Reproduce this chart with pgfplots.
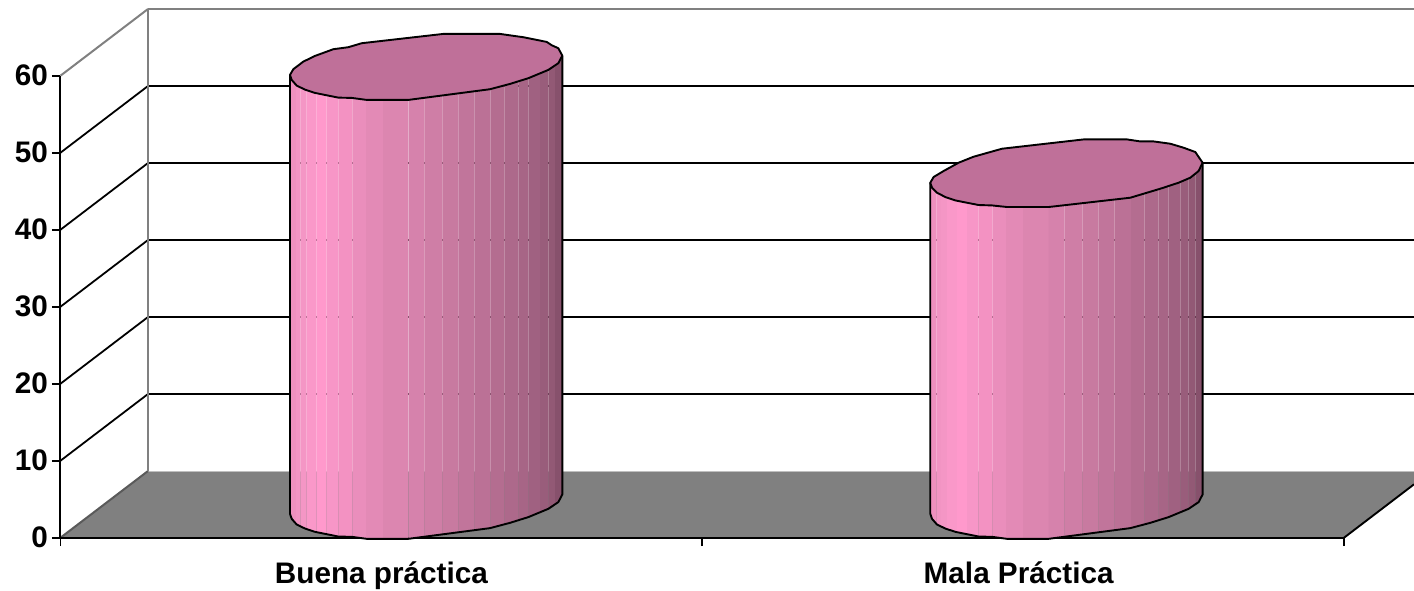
\documentclass[border=0pt]{standalone}
\usepackage{fontspec}
\setmainfont{Liberation Sans}
\usepackage{pgfplots}
\pgfplotsset{compat=1.18}

% Shades of the cylinder wall, left to right
\definecolor{s1}{HTML}{EE90BE}\definecolor{s2}{HTML}{F294C3}\definecolor{s3}{HTML}{F496C5}
\definecolor{s4}{HTML}{FA98C9}\definecolor{s5}{HTML}{FF99CC}\definecolor{s6}{HTML}{F796C7}
\definecolor{s7}{HTML}{F392C2}\definecolor{s8}{HTML}{EA8EBC}\definecolor{s9}{HTML}{E38AB6}
\definecolor{s10}{HTML}{DC86B0}\definecolor{s11}{HTML}{D682AC}\definecolor{s12}{HTML}{CF7EA6}
\definecolor{s13}{HTML}{C87AA0}\definecolor{s14}{HTML}{C1759B}\definecolor{s15}{HTML}{BB7196}
\definecolor{s16}{HTML}{B46D90}\definecolor{s17}{HTML}{AD698B}\definecolor{s18}{HTML}{A76586}
\definecolor{s19}{HTML}{A06181}\definecolor{s20}{HTML}{995D7B}\definecolor{s21}{HTML}{925975}
\definecolor{s22}{HTML}{87516C}
\definecolor{capcol}{HTML}{BF7099}
\definecolor{floorcol}{HTML}{808080}

% Scale of the front plane: points per category and per value unit
\def\ptx{641.75}
\def\pty{7.7}

% Front edge of a cylinder rim as offsets from its left corner
\def\frontedge{0/0,1.7/5,6.7/10.7,15/14.7,25/18,48.3/22.7,61.7/23,76.7/25,118.3/25,200/14.3,220/9,238.3/3.3,258.3/-5,268.3/-11.7,272.3/-19.3}

% #1 left end on the x axis, #2 value, #3 rim outline
\newcommand\cylinder[3]{%
  \foreach \c/\ua/\ub/\va/\vb in {%
    s1/0/6/0/10.3,s2/6/10.7/10.3/12.7,s3/10.7/16.7/12.7/15.3,s4/16.7/26.7/15.3/18.4,%
    s5/26.7/36.7/18.4/20.4,s6/36.7/48.3/20.4/22.7,s7/48.3/62.3/22.7/23,s8/62.3/76/23/25,%
    s9/76/92.7/25/25,s10/92.7/118.3/25/25,s11/118.3/134.3/25/23,s12/134.3/152.3/23/20.6,%
    s13/152.3/168.3/20.6/18.5,s14/168.3/184.3/18.5/16.4,s15/184.3/200.7/16.4/14.1,%
    s16/200.7/214.3/14.1/10.8,s17/214.3/228.3/10.8/6.4,s18/228.3/238.3/6.4/3.3,%
    s19/238.3/250/3.3/-1.6,s20/250/258.3/-1.6/-5,s21/258.3/265/-5/-9,s22/265/272.3/-9/-19.3}{%
    \pgfmathsetmacro\xa{#1+\ua/\ptx}%
    \pgfmathsetmacro\xb{#1+\ub/\ptx}%
    \pgfmathsetmacro\ybotA{3.1-\va/\pty}%
    \pgfmathsetmacro\ybotB{3.1-\vb/\pty}%
    \pgfmathsetmacro\ytopA{#2+3.1-\va/\pty}%
    \pgfmathsetmacro\ytopB{#2+3.1-\vb/\pty}%
    \edef\temp{\noexpand\addplot[fill=\c,draw=none] coordinates
      {(\xa,\ybotA) (\xb,\ybotB) (\xb,\ytopB) (\xa,\ytopA)} -- cycle;}%
    \temp
  }%
  % wall outline: down the left side, along the base, up the right side
  \gdef\wallpts{}%
  \foreach \u/\v in \frontedge {%
    \pgfmathsetmacro\xx{#1+\u/\ptx}%
    \pgfmathsetmacro\yy{3.1-\v/\pty}%
    \xdef\wallpts{\wallpts (\xx,\yy)}%
  }%
  \pgfmathsetmacro\xl{#1}%
  \pgfmathsetmacro\xr{#1+272.3/\ptx}%
  \pgfmathsetmacro\yl{#2+3.1}%
  \pgfmathsetmacro\yr{#2+3.1+19.3/\pty}%
  \edef\temp{\noexpand\addplot[black,line width=1.9pt,line join=round] coordinates
    {(\xl,\yl) \wallpts (\xr,\yr)};}%
  \temp
  % top rim
  \gdef\rimpts{}%
  \foreach \u/\v in {#3} {%
    \pgfmathsetmacro\xx{#1+\u/\ptx}%
    \pgfmathsetmacro\yy{#2+3.1-\v/\pty}%
    \xdef\rimpts{\rimpts (\xx,\yy)}%
  }%
  \edef\temp{\noexpand\addplot[fill=capcol,draw=black,line width=1.9pt,line join=round] coordinates
    {\rimpts} -- cycle;}%
  \temp
}

\begin{document}
\begin{tikzpicture}
\path[use as bounding box] (-60.5pt,-52.3pt) rectangle (1353.5pt,537.7pt);
\begin{axis}[
  at={(0pt,0pt)}, anchor=origin,
  scale only axis,
  width=1353.5pt, height=537.7pt,
  xmin=0, xmax=2.109, ymin=0, ymax=69.83,
  clip=false,
  axis x line*=bottom, axis y line*=left,
  axis line style={draw=none},
  tick align=outside,
  ytick={0,10,...,60},
  xtick={0,1,2},
  xticklabels={},
  extra x ticks={0.5,1.493},
  extra x tick labels={Buena práctica,Mala Práctica},
  extra x tick style={major tick length=0pt,
    xticklabel style={anchor=base,yshift=-46pt,font=\fontsize{29.7}{32}\selectfont\bfseries}},
  major tick length=8.5pt,
  tick style={black,line width=1.8pt},
  yticklabel style={xshift=-0.5pt,font=\fontsize{29.7}{32}\selectfont\bfseries},
  /pgf/number format/assume math mode=true,
]
% floor
\addplot[fill=floorcol,draw=none] coordinates
  {(0,0) (2,0) (2.109,6.93) (2.109,8.66) (0.13635,8.66)} -- cycle;
\addplot[color=black!25,line width=1pt] coordinates {(0.13635,8.66) (2.109,8.66)};
% back wall gridlines
\addplot[black,line width=1.8pt] coordinates {(0.13635,18.66) (2.109,18.66)};
\addplot[black,line width=1.8pt] coordinates {(0.13635,28.66) (2.109,28.66)};
\addplot[black,line width=1.8pt] coordinates {(0.13635,38.66) (2.109,38.66)};
\addplot[black,line width=1.8pt] coordinates {(0.13635,48.66) (2.109,48.66)};
\addplot[black,line width=1.8pt] coordinates {(0.13635,58.66) (2.109,58.66)};
\addplot[floorcol,line width=2pt] coordinates {(0.13635,68.66) (2.109,68.66)};
% side wall gridlines
\addplot[black,line width=1.8pt] coordinates {(0,10) (0.13635,18.66)};
\addplot[black,line width=1.8pt] coordinates {(0,20) (0.13635,28.66)};
\addplot[black,line width=1.8pt] coordinates {(0,30) (0.13635,38.66)};
\addplot[black,line width=1.8pt] coordinates {(0,40) (0.13635,48.66)};
\addplot[black,line width=1.8pt] coordinates {(0,50) (0.13635,58.66)};
\addplot[floorcol,line width=2pt] coordinates {(0,60) (0.13635,68.66)};
\addplot[floorcol!70!black,line width=2pt] coordinates {(0,0) (0.13635,8.66)};
\addplot[floorcol,line width=2pt] coordinates {(0.13635,8.66) (0.13635,68.66)};
% front edges
\addplot[black,line width=2pt] coordinates {(0,0) (0,60)};
\addplot[black,line width=2.2pt] coordinates {(0,0) (2,0)};
\addplot[black,line width=1.9pt] coordinates {(2,0) (2.109,6.93)};
% cylinders
\cylinder{0.3576}{57}{0/0,3.3/-5.7,13.3/-13.3,25/-19,43.3/-25.7,58.3/-27.7,71.7/-31.7,153.3/-41,210/-41,233.3/-37.7,256.7/-33,261.7/-29.7,268.3/-26.7,272.3/-19.3,268.3/-11.7,258.3/-5,238.3/3.3,220/9,200/14.3,118.3/25,76.7/25,61.7/23,48.3/22.7,25/18,15/14.7,6.7/10.7,1.7/5}
\cylinder{1.3553}{43}{0/0,3.3/-5.7,13.3/-11.7,28.3/-20,43.3/-26,71.7/-34,153.3/-43.3,196.7/-43.3,210/-41.3,223.3/-41.3,240/-39,253.3/-35,265/-30.7,272.3/-20,268.3/-11.7,260/-5,248.3/0,230/6,200/15,118.3/24.3,76.7/24.3,61.7/22.7,48.3/22.3,25/17.7,15/14.3,6.7/10,1.7/5}
\end{axis}
\end{tikzpicture}
\end{document}
